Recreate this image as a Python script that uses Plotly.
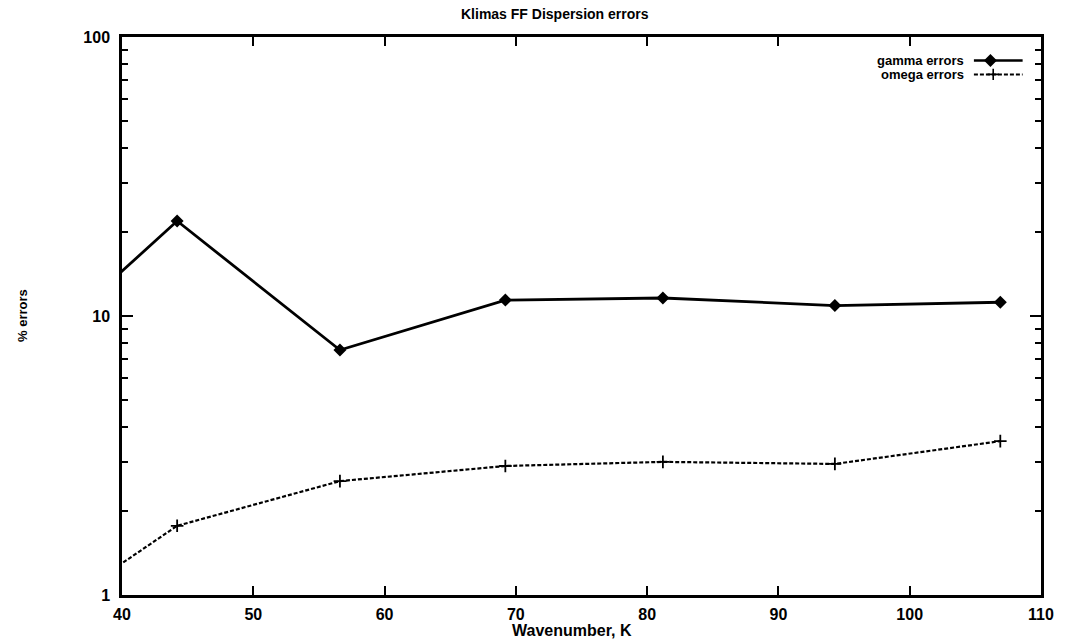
import plotly.graph_objects as go

# Wavenumber samples (first one lies left of the plotted range, so the
# curves run in from the left edge of the frame)
wavenumber = [31.4, 44.2, 56.6, 69.2, 81.2, 94.3, 106.9]
gamma_err = [6.2, 21.9, 7.55, 11.4, 11.6, 10.9, 11.2]
omega_err = [0.69, 1.77, 2.56, 2.90, 3.00, 2.95, 3.56]

x_ticks = [40, 50, 60, 70, 80, 90, 100, 110]
y_ticks = [1, 10, 100]

title_text = "Klimas FF Dispersion errors"
x_title = "Wavenumber, K"
y_title = "% errors"
legend_labels = ["gamma errors", "omega errors"]

FONT = "Liberation Sans, Arial, sans-serif"
INK = "#000000"


def bold(size):
    return dict(family=FONT, size=size, color=INK, weight="bold")


fig = go.Figure()

fig.add_trace(go.Scatter(
    x=wavenumber, y=gamma_err, mode="lines+markers",
    line=dict(color=INK, width=2.8),
    marker=dict(symbol="diamond", size=10, color=INK),
    showlegend=False, cliponaxis=True,
))
fig.add_trace(go.Scatter(
    x=wavenumber, y=omega_err, mode="lines+markers",
    line=dict(color=INK, width=2.2, dash="4px,2px"),
    marker=dict(symbol="cross-thin", size=9, line=dict(color=INK, width=1.8)),
    showlegend=False, cliponaxis=True,
))

# Key samples drawn on a hidden overlay axis (0..1 in both directions)
key_x = [0.927, 0.980]
key_mark_x = 0.945
key_y = [0.958, 0.933]
fig.add_trace(go.Scatter(
    x=key_x, y=[key_y[0]] * 2, mode="lines", xaxis="x2", yaxis="y2",
    line=dict(color=INK, width=2.6), showlegend=False, hoverinfo="skip",
))
fig.add_trace(go.Scatter(
    x=[key_mark_x], y=[key_y[0]], mode="markers", xaxis="x2", yaxis="y2",
    marker=dict(symbol="diamond", size=10, color=INK), showlegend=False, hoverinfo="skip",
))
fig.add_trace(go.Scatter(
    x=key_x, y=[key_y[1]] * 2, mode="lines", xaxis="x2", yaxis="y2",
    line=dict(color=INK, width=2.0, dash="4px,2px"), showlegend=False, hoverinfo="skip",
))
fig.add_trace(go.Scatter(
    x=[key_mark_x + 0.003], y=[key_y[1]], mode="markers", xaxis="x2", yaxis="y2",
    marker=dict(symbol="cross-thin", size=8, line=dict(color=INK, width=1.6)),
    showlegend=False, hoverinfo="skip",
))

fig.update_layout(
    width=1066, height=641,
    margin=dict(l=122, r=21, t=37, b=46),
    paper_bgcolor="white", plot_bgcolor="white",
    xaxis=dict(
        range=[40, 110], tickvals=x_ticks, ticktext=[str(v) for v in x_ticks],
        ticks="inside", ticklen=9, tickwidth=2, tickcolor=INK,
        showline=True, linewidth=2.5, linecolor=INK, mirror="ticks",
        showgrid=False, zeroline=False,
        tickfont=bold(16), ticklabelstandoff=3,
    ),
    yaxis=dict(
        type="log", range=[0, 2], tickvals=y_ticks, ticktext=[str(v) for v in y_ticks],
        ticks="inside", ticklen=11, tickwidth=2, tickcolor=INK,
        showline=True, linewidth=2.5, linecolor=INK, mirror="ticks",
        showgrid=False, zeroline=False,
        tickfont=bold(16), ticklabelstandoff=6,
        minor=dict(ticks="inside", ticklen=6, tickwidth=2, tickcolor=INK,
                   tickvals=[m * d for d in (1, 10) for m in range(2, 10)],
                   showgrid=False),
    ),
    xaxis2=dict(range=[0, 1], overlaying="x", visible=False, fixedrange=True),
    yaxis2=dict(range=[0, 1], overlaying="y", visible=False, fixedrange=True),
    annotations=[
        dict(text=title_text, xref="paper", yref="paper",
             x=(557 - 122) / (1066 - 122 - 21), y=1, yanchor="middle", yshift=23,
             showarrow=False, font=bold(14)),
        dict(text=x_title, xref="paper", yref="paper", x=0.49, y=0,
             yanchor="middle", yshift=-35, showarrow=False, font=bold(16)),
        dict(text=y_title, xref="paper", yref="paper", x=0, y=0.5,
             xanchor="center", yanchor="middle", xshift=-100, textangle=-90,
             showarrow=False, font=bold(13)),
        dict(text=legend_labels[0], xref="paper", yref="paper",
             x=0.918, y=key_y[0], xanchor="right", yanchor="middle",
             showarrow=False, font=bold(13)),
        dict(text=legend_labels[1], xref="paper", yref="paper",
             x=0.918, y=key_y[1], xanchor="right", yanchor="middle",
             showarrow=False, font=bold(13)),
    ],
)

fig.write_html("out.html")
